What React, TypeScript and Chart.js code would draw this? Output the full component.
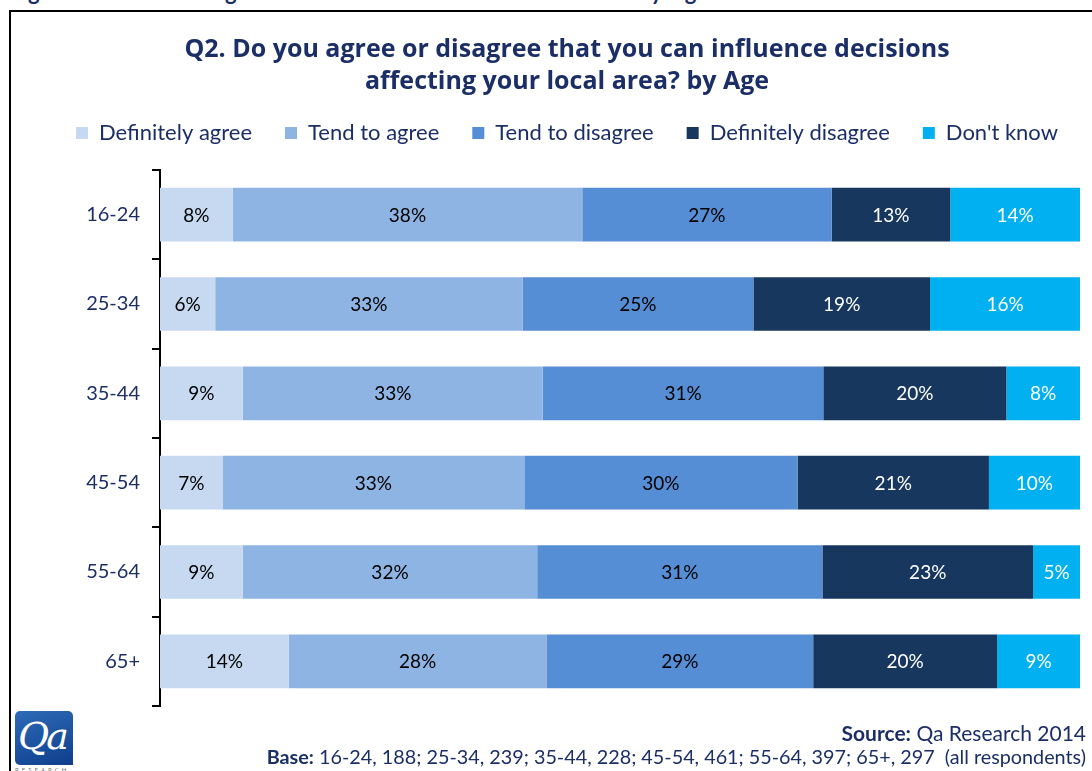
import React, { useEffect, useRef } from "react";
import { Chart, registerables } from "chart.js";

Chart.register(...registerables);

const categories = ["16-24", "25-34", "35-44", "45-54", "55-64", "65+"];
const seriesNames = ["Definitely agree", "Tend to agree", "Tend to disagree", "Definitely disagree", "Don't know"];
const definitelyAgree = [7.9, 6.0, 9.0, 6.8, 9.0, 14.0];
const tendToAgree = [38.0, 33.4, 32.6, 32.8, 32.0, 28.0];
const tendToDisagree = [27.1, 25.1, 30.5, 29.7, 31.0, 29.0];
const definitelyDisagree = [12.9, 19.2, 19.9, 20.8, 22.9, 20.0];
const dontKnow = [14.1, 16.3, 8.0, 9.9, 5.1, 9.0];
const seriesColors = ["#C6D9F1", "#8EB4E3", "#558ED5", "#17375E", "#00B0F0"];
const labelColors = ["#000000", "#000000", "#000000", "#FFFFFF", "#FFFFFF"];
const titleLines = ["Q2. Do you agree or disagree that you can influence decisions", "affecting your local area? by Age"];

const NAVY = "#1B2F66";
const FONT = "Lato, 'Open Sans', sans-serif";
const TITLE_FONT = "'Open Sans', Lato, sans-serif";

const valueLabelPlugin = {
  id: "valueLabels",
  afterDatasetsDraw(chart: any) {
    const ctx = chart.ctx;
    ctx.save();
    ctx.font = `19px ${FONT}`;
    ctx.textAlign = "center";
    ctx.textBaseline = "middle";
    chart.data.datasets.forEach((ds: any, di: number) => {
      const meta = chart.getDatasetMeta(di);
      meta.data.forEach((bar: any, i: number) => {
        const v = ds.data[i];
        const x = (bar.x + bar.base) / 2;
        ctx.fillStyle = labelColors[di];
        ctx.fillText(`${Math.round(v)}%`, x, bar.y + 1);
      });
    });
    ctx.restore();
  },
};

export default function App() {
  const canvasRef = useRef<HTMLCanvasElement | null>(null);

  useEffect(() => {
    const seriesValues = [definitelyAgree, tendToAgree, tendToDisagree, definitelyDisagree, dontKnow];
    const chart = new Chart(canvasRef.current as HTMLCanvasElement, {
      type: "bar",
      data: {
        labels: categories,
        datasets: seriesNames.map((name, i) => ({
          label: name,
          data: seriesValues[i],
          backgroundColor: seriesColors[i],
          borderWidth: 0,
          barPercentage: 0.6,
          categoryPercentage: 1,
        })),
      },
      options: {
        indexAxis: "y",
        responsive: false,
        animation: false,
        devicePixelRatio: 1,
        layout: { padding: { left: 0, right: 0, top: 0, bottom: 26 } },
        scales: {
          x: {
            stacked: true,
            min: 0,
            max: 100,
            display: true,
            position: "top",
            ticks: { display: false },
            grid: { display: false },
            border: { display: false },
            afterFit: (scale: any) => {
              scale.height = 16;
            },
          },
          y: {
            stacked: true,
            afterFit: (scale: any) => {
              scale.width = 148;
            },
            grid: {
              drawOnChartArea: false,
              drawTicks: true,
              tickLength: 8,
              color: "#000",
              lineWidth: 2,
              offset: true,
            },
            border: { display: true, color: "#000", width: 2 },
            ticks: { color: NAVY, font: { size: 20, family: FONT }, padding: 12 },
          },
          yRight: {
            type: "category",
            position: "right",
            display: true,
            ticks: { display: false },
            grid: { display: false },
            border: { display: false },
            afterFit: (scale: any) => {
              scale.width = 42;
            },
          },
        },
        plugins: {
          title: {
            display: true,
            text: titleLines,
            color: NAVY,
            font: { size: 25, weight: "bold", family: TITLE_FONT, lineHeight: 1.28 },
            padding: { top: 22, bottom: -9 },
          },
          legend: {
            display: true,
            labels: {
              boxWidth: 12,
              boxHeight: 12,
              color: NAVY,
              font: { size: 22, family: FONT },
              padding: 33,
            },
          },
          tooltip: { enabled: false },
        },
      },
      plugins: [valueLabelPlugin],
    } as any);
    return () => chart.destroy();
  }, []);

  return (
    <div style={{ position: "fixed", left: 0, top: 0, width: 1092, height: 771, overflow: "hidden", background: "#fff", fontFamily: FONT }}>
      <div style={{ position: "absolute", left: 8, top: -19, whiteSpace: "nowrap", fontWeight: "bold", fontSize: 22, lineHeight: "22px", letterSpacing: 1, color: NAVY }}>
        Figure 10: Level of agreement that can influence decisions by Age
      </div>
      <div style={{ position: "absolute", left: 9, top: 10, width: 1200, height: 900, border: "2px solid #000" }} />
      <canvas ref={canvasRef} width={1110} height={720} style={{ position: "absolute", left: 12, top: 12, width: 1110, height: 720 }} />
      <div style={{ position: "absolute", left: 15, top: 711, width: 58, height: 54, borderRadius: "5px 5px 0 5px", background: "linear-gradient(160deg, #2E6BB8 0%, #0E3E8C 100%)", overflow: "hidden" }}>
        <div style={{ position: "absolute", left: 3, top: 2, color: "#fff", fontFamily: "'DejaVu Serif', 'Liberation Serif', serif", fontStyle: "italic", fontSize: 38, lineHeight: "46px", letterSpacing: -3 }}>
          Qa
        </div>
      </div>
      <div style={{ position: "absolute", left: 15, top: 766, fontSize: 6, letterSpacing: 3, color: "#777" }}>RESEARCH</div>
      <div style={{ position: "absolute", right: 6, top: 720, fontSize: 21, color: NAVY, whiteSpace: "nowrap", lineHeight: "26px" }}>
        <b>Source:</b> Qa Research 2014
      </div>
      <div style={{ position: "absolute", right: 6, top: 744, fontSize: 19.8, color: NAVY, whiteSpace: "nowrap", lineHeight: "24px" }}>
        <b>Base:</b> 16-24, 188; 25-34, 239; 35-44, 228; 45-54, 461; 55-64, 397; 65+, 297 &nbsp;(all respondents)
      </div>
    </div>
  );
}
